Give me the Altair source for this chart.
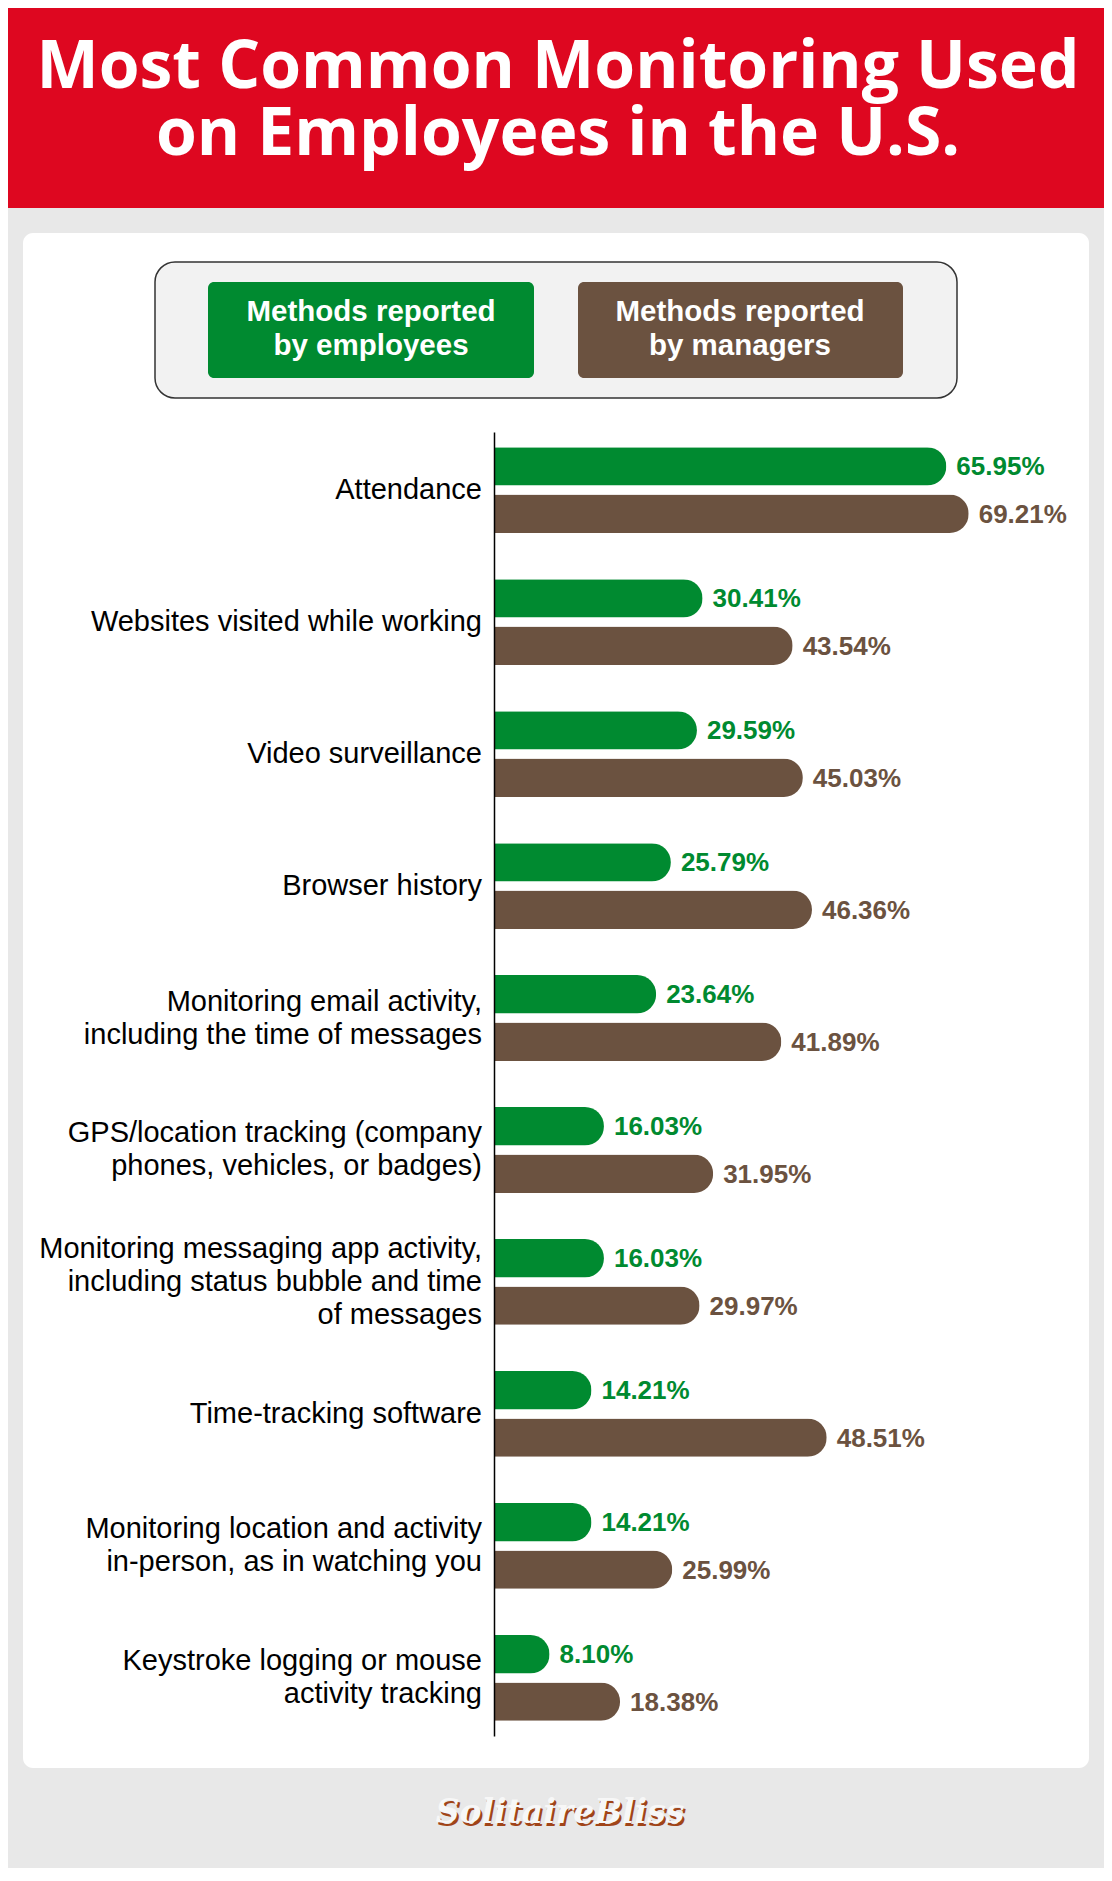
import altair as alt
import pandas as pd

# ---------------- data ----------------
categories = [
    "Attendance",
    "Websites visited while working",
    "Video surveillance",
    "Browser history",
    "Monitoring email activity,\nincluding the time of messages",
    "GPS/location tracking (company\nphones, vehicles, or badges)",
    "Monitoring messaging app activity,\nincluding status bubble and time\nof messages",
    "Time-tracking software",
    "Monitoring location and activity\nin-person, as in watching you",
    "Keystroke logging or mouse\nactivity tracking",
]
employees = [65.95, 30.41, 29.59, 25.79, 23.64, 16.03, 16.03, 14.21, 14.21, 8.10]
managers = [69.21, 43.54, 45.03, 46.36, 41.89, 31.95, 29.97, 48.51, 25.99, 18.38]
series = ["Methods reported by employees", "Methods reported by managers"]
legend_labels = ["Methods reported\nby employees", "Methods reported\nby managers"]
colors = ["#008a30", "#6b5240"]
title_lines = ["Most Common Monitoring Used", "on Employees in the U.S."]
brand = ["SolitaireBliss"]

rows = []
for i, c in enumerate(categories):
    rows.append({"cat": c, "series": series[0], "value": employees[i]})
    rows.append({"cat": c, "series": series[1], "value": managers[i]})
df = pd.DataFrame(rows)
cats_df = pd.DataFrame({"cat": categories,
                        "nlines": [c.count("\n") + 1 for c in categories]})
one = pd.DataFrame({"k": [0]})

# ---------------- scales ----------------
yscale = alt.Scale(domain=categories, paddingInner=0.35, paddingOuter=0.115)
xscale = alt.Scale(domain=[0, 85], nice=False, zero=True)
cscale = alt.Scale(domain=series, range=colors)
oscale = alt.Scale(domain=series, paddingInner=0.19, paddingOuter=0)
yax = alt.Axis(domain=True, domainColor="black", domainWidth=1.5, ticks=False,
               labels=False, title=None, grid=False, zindex=1)

# ---------------- decorations ----------------
header = alt.Chart(one).mark_rect(color="#de0720").encode(
    x=alt.value(-500), x2=alt.value(620), y=alt.value(-440), y2=alt.value(-224))
panel = alt.Chart(one).mark_rect(color="white", cornerRadius=10).encode(
    x=alt.value(-471), x2=alt.value(595), y=alt.value(-199), y2=alt.value(1336))
legend_box = alt.Chart(one).mark_rect(fill="#f2f2f2", stroke="#333333", strokeWidth=1.5,
                                      cornerRadius=20).encode(
    x=alt.value(-339), x2=alt.value(463), y=alt.value(-170), y2=alt.value(-34))
btn1 = alt.Chart(one).mark_rect(color=colors[0], cornerRadius=6).encode(
    x=alt.value(-286), x2=alt.value(40), y=alt.value(-150), y2=alt.value(-54))
btn2 = alt.Chart(one).mark_rect(color=colors[1], cornerRadius=6).encode(
    x=alt.value(84), x2=alt.value(409), y=alt.value(-150), y2=alt.value(-54))
leg_t1 = alt.Chart(pd.DataFrame({"t": [legend_labels[0]]})).mark_text(
    color="white", font="Liberation Sans", fontWeight="bold", fontSize=29.5,
    lineBreak="\n", lineHeight=34, align="center", baseline="alphabetic").encode(
    text="t:N", x=alt.value(-123), y=alt.value(-111))
leg_t2 = alt.Chart(pd.DataFrame({"t": [legend_labels[1]]})).mark_text(
    color="white", font="Liberation Sans", fontWeight="bold", fontSize=29.5,
    lineBreak="\n", lineHeight=34, align="center", baseline="alphabetic").encode(
    text="t:N", x=alt.value(246), y=alt.value(-111))
title = alt.Chart(pd.DataFrame({"t": ["\n".join(title_lines)]})).mark_text(
    color="white", font="Open Sans", fontWeight="bold", fontSize=66,
    lineBreak="\n", lineHeight=67, align="center", baseline="alphabetic").encode(
    text="t:N", x=alt.value(64), y=alt.value(-344))
logo_shadow = alt.Chart(pd.DataFrame({"t": brand})).mark_text(
    color="#a04418", font="DejaVu Serif", fontStyle="italic", fontWeight="bold",
    fontSize=33, align="center", baseline="middle", dx=2, dy=3).encode(
    text="t:N", x=alt.value(66), y=alt.value(1381))
logo = alt.Chart(pd.DataFrame({"t": brand})).mark_text(
    color="#f7f7f7", font="DejaVu Serif",
    fontStyle="italic", fontWeight="bold", fontSize=33, align="center",
    baseline="middle").encode(text="t:N", x=alt.value(66), y=alt.value(1381))

# ---------------- data marks ----------------
bars = alt.Chart(df).mark_bar(cornerRadiusEnd=19).encode(
    y=alt.Y("cat:N", scale=yscale, sort=categories, axis=yax),
    yOffset=alt.YOffset("series:N", sort=series, scale=oscale),
    x=alt.X("value:Q", scale=xscale, axis=None),
    color=alt.Color("series:N", scale=cscale, legend=None),
)
values = alt.Chart(df).transform_calculate(
    label="format(datum.value, '.2f') + '%'"
).mark_text(font="Liberation Sans", fontWeight="bold", fontSize=26, align="left",
            baseline="middle", dx=10, dy=1).encode(
    y=alt.Y("cat:N", scale=yscale, sort=categories, axis=yax),
    yOffset=alt.YOffset("series:N", sort=series, scale=oscale),
    x=alt.X("value:Q", scale=xscale, axis=None),
    color=alt.Color("series:N", scale=cscale, legend=None),
    text="label:N",
)


def cat_layer(n):
    return alt.Chart(cats_df).transform_filter(alt.datum.nlines == n).mark_text(
        font="Liberation Sans", fontSize=29, color="black", align="right",
        baseline="middle", lineBreak="\n", lineHeight=33, dy=-(n - 1) * 16.5).encode(
        y=alt.Y("cat:N", scale=yscale, sort=categories, axis=yax),
        x=alt.value(-12),
        text="cat:N",
    )


chart = alt.layer(
    header, panel, legend_box, btn1, btn2, leg_t1, leg_t2, title,
    logo_shadow, logo, bars, values, cat_layer(1), cat_layer(2), cat_layer(3)
).properties(
    width=583, height=1304,
    padding={"left": 486, "top": 424, "right": 27, "bottom": 132},
    autosize=alt.AutoSizeParams(type="none"),
    background="#e8e8e8",
).configure_view(stroke=None)

chart.save("out.html", embed_options={"renderer": "svg", "actions": False})
